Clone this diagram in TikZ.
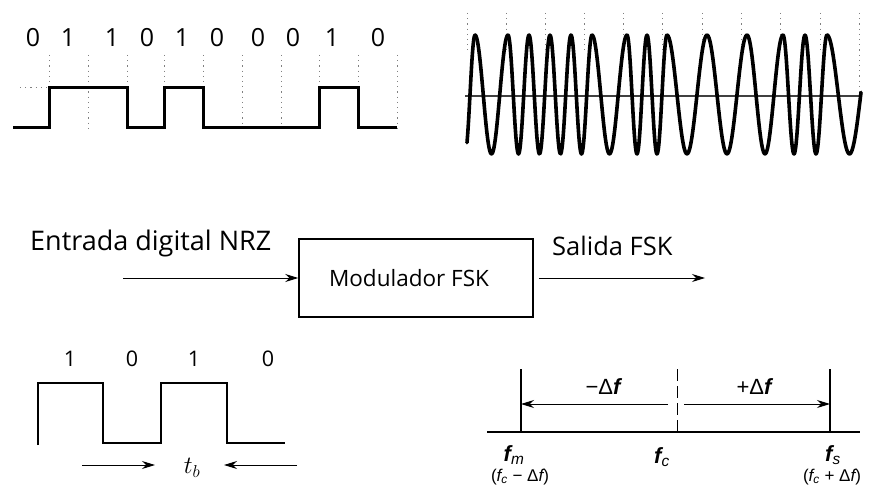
\documentclass[tikz,border=0pt]{standalone}
\usepackage{fontspec}
\setmainfont{Open Sans}
\newfontfamily\labf{Liberation Sans}
\usetikzlibrary{arrows.meta}
\begin{document}
\begin{tikzpicture}[x=1pt,y=-1pt,
  wave/.style={line width=3pt, line join=miter},
  sinew/.style={line width=3.6pt, line cap=round, line join=round},
  guide/.style={gray, line width=0.9pt, dash pattern=on 1.2pt off 4pt},
  bitlbl/.style={font=\fontsize{25}{25}\selectfont, inner sep=0pt},
  smallbit/.style={font=\fontsize{21.5}{21.5}\selectfont, inner sep=0pt},
  arr/.style={-{Stealth[length=13pt,width=8pt]}, line width=0.9pt},
  thinline/.style={line width=1.3pt},
  flbl/.style={font=\labf\fontsize{22}{22}\selectfont, inner sep=0pt},
  fsub/.style={font=\labf\fontsize{17}{17}\selectfont, inner sep=0pt}]
\useasboundingbox (0,0) rectangle (870,495);

% ---------- top left: NRZ data ----------
\foreach \x in {49,88,127,164,203,242,281,319,358,397}
  \draw[guide] (\x,55) -- (\x,130);
\draw[guide] (20,87) -- (49,87);
\draw[wave] (13,127) -- (49,127) -- (49,87) -- (127,87) -- (127,127) -- (164,127)
  -- (164,87) -- (203,87) -- (203,127) -- (319,127) -- (319,87) -- (358,87)
  -- (358,127) -- (397,127);
\foreach \x/\b [count=\i] in {33/0,68/1,112/1,147/0,182/1,217/0,258/0,293/0,332/1,378/0}
  \node[bitlbl] (bit\i) at (\x,38) {\b};

% ---------- top right: FSK signal ----------
\foreach \x in {467,506,545,584,623,662,702,741,780,820}
  \draw[guide] (\x,13) -- (\x,50);
\draw[guide] (859,13) -- (859,96);
\draw[line width=1.4pt, black!75] (465,96) -- (862,96);
\draw[sinew] plot[domain=467:475, samples=12, smooth] (\x, {94.5-59.5*cos((\x-475)/20*360)});
\foreach \a/\b/\n in {475/508/1,508/592/4,592/627/1,627/667/2,667/707/1,707/747/1,747/783/1,783/827/2}
  \draw[sinew] plot[domain=\a:\b, samples=40*\n, smooth] (\x, {94.5-59.5*cos((\x-\a)/(\b-\a)*360*\n)});
\draw[sinew] plot[domain=827:861, samples=40, smooth] (\x, {94.5-59.5*cos((\x-827)/45*360)});

% ---------- middle: block diagram ----------
\node[anchor=base west, inner sep=0pt, font=\fontsize{27}{27}\selectfont] (entrada) at (30,250) {Entrada digital NRZ};
\node[draw, line width=1.5pt, minimum width=234pt, minimum height=78pt, inner sep=0pt,
      font=\fontsize{22.5}{22.5}\selectfont] (mod) at (416,278) {Modulador FSK\hspace*{14pt}};
\node[anchor=base west, inner sep=0pt, font=\fontsize{25.5}{25.5}\selectfont] (salida) at (552,255) {Salida FSK};
\coordinate (inS) at (123,278);
\coordinate (outE) at (705,278);
\draw[arr] (inS) -- (mod.west);
\draw[arr] ([xshift=5pt]mod.east) -- (outE);

% ---------- bottom left: bit time ----------
\draw[thinline] (38,445) -- (38,383) -- (103,383) -- (103,443) -- (161,443) -- (161,383)
  -- (227,383) -- (227,443) -- (285,443);
\foreach \x/\b [count=\i] in {70/1,132/0,194/1,268/0}
  \node[smallbit] (sb\i) at (\x,359) {\b};
\node[inner sep=0pt, font=\fontsize{24}{24}\selectfont] (tb) at (192,468) {$t_b$};
\coordinate (tbL) at (82,465);
\coordinate (tbR) at (297,465);
\draw[arr] (tbL) -- ([xshift=-37pt,yshift=3pt]tb.center);
\draw[arr] (tbR) -- ([xshift=32pt,yshift=3pt]tb.center);

% ---------- bottom right: spectrum ----------
\coordinate (axL) at (487,432);
\coordinate (axR) at (860,432);
\coordinate (fmB) at (521,432);
\coordinate (fmT) at (521,369);
\coordinate (fcB) at (677,432);
\coordinate (fcT) at (677,369);
\coordinate (fsB) at (830,432);
\coordinate (fsT) at (830,369);
\draw[thinline] (axL) -- (axR);
\draw[thinline] (fmB) -- (fmT);
\draw[thinline] (fsB) -- (fsT);
\draw[line width=1pt, dash pattern=on 12pt off 5pt] (fcT) -- (fcB);
\coordinate (mArr) at (668,404);
\coordinate (pArr) at (684,404);
\draw[arr] (mArr) -- (fmB |- mArr);
\draw[arr] (pArr) -- (fsB |- pArr);
\node[flbl] (mdf) at (603,387) {−Δ{\bfseries\itshape f}};
\node[flbl] (pdf) at (754,387) {+Δ{\bfseries\itshape f}};
\node[flbl] (fm) at (514,455) {{\bfseries\itshape f}\textsubscript{\itshape m}};
\node[flbl] (fc) at (662,457) {{\bfseries\itshape f}\textsubscript{\itshape c}};
\node[flbl] (fs) at (833,455) {{\bfseries\itshape f}\textsubscript{\itshape s}};
\node[fsub] (fmx) at (520,477) {({\itshape f}\textsubscript{\itshape c} − Δ{\itshape f})};
\node[fsub] (fsx) at (832,477) {({\itshape f}\textsubscript{\itshape c} + Δ{\itshape f})};
\end{tikzpicture}
\end{document}
